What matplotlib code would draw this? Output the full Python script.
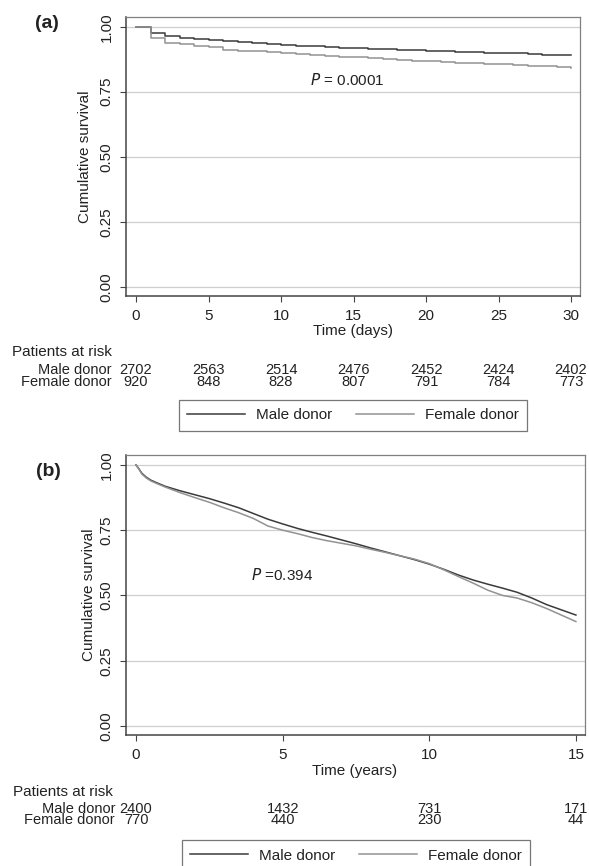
import numpy as np
import matplotlib.pyplot as plt
import matplotlib.transforms as mtransforms

plt.rcParams['font.family'] = ['Liberation Sans', 'DejaVu Sans']
plt.rcParams['text.color'] = '#222222'

W, H = 589, 866

# (a) 30-day survival, value after the events of each day
days = list(range(31))
male_a = [1.000, 0.977, 0.966, 0.956, 0.951, 0.947, 0.944, 0.940, 0.937, 0.934,
          0.931, 0.927, 0.924, 0.922, 0.920, 0.918, 0.916, 0.914, 0.912, 0.910,
          0.908, 0.906, 0.904, 0.902, 0.900, 0.899, 0.897, 0.895, 0.893, 0.892, 0.891]
female_a = [1.000, 0.955, 0.939, 0.932, 0.926, 0.922, 0.912, 0.908, 0.905, 0.902,
            0.898, 0.895, 0.893, 0.887, 0.884, 0.882, 0.879, 0.875, 0.872, 0.870,
            0.868, 0.866, 0.861, 0.859, 0.857, 0.855, 0.853, 0.850, 0.848, 0.845, 0.843]
risk_t_a = [0, 5, 10, 15, 20, 25, 30]
risk_male_a = [2702, 2563, 2514, 2476, 2452, 2424, 2402]
risk_female_a = [920, 848, 828, 807, 791, 784, 773]

# (b) long term survival
years = [0, 0.1, 0.2, 0.35, 0.5, 0.7, 1.0, 1.5, 2.0, 2.5, 3.0, 3.5, 4.0, 4.5, 5.0,
         5.5, 6.0, 6.5, 7.0, 7.5, 8.0, 8.5, 9.0, 9.5, 10.0, 10.5, 11.0, 11.5, 12.0,
         12.5, 13.0, 13.5, 14.0, 14.5, 15.0]
male_b = [1.0, 0.985, 0.968, 0.953, 0.942, 0.932, 0.918, 0.901, 0.886, 0.871, 0.854,
          0.836, 0.814, 0.792, 0.774, 0.757, 0.742, 0.728, 0.713, 0.698, 0.682, 0.667,
          0.652, 0.637, 0.620, 0.600, 0.578, 0.559, 0.543, 0.528, 0.512, 0.490, 0.465,
          0.445, 0.425]
female_b = [1.0, 0.983, 0.965, 0.950, 0.939, 0.929, 0.915, 0.894, 0.875, 0.857, 0.836,
            0.817, 0.795, 0.766, 0.750, 0.737, 0.722, 0.710, 0.700, 0.690, 0.677, 0.665,
            0.652, 0.639, 0.622, 0.598, 0.572, 0.547, 0.520, 0.500, 0.490, 0.472, 0.450,
            0.425, 0.400]
risk_t_b = [0, 5, 10, 15]
risk_male_b = [2400, 1432, 731, 171]
risk_female_b = [770, 440, 230, 44]

male_col = '#3a3a3a'
female_col = '#929292'


def fy(y):
    return 1 - y / H


def style_axes(ax, xticks, ylim, xlim):
    ax.set_xlim(xlim)
    ax.set_ylim(ylim)
    ax.set_xticks(xticks)
    ax.set_yticks([0, 0.25, 0.5, 0.75, 1.0])
    ax.set_yticklabels(['0.00', '0.25', '0.50', '0.75', '1.00'])
    ax.grid(axis='y', color='#cfcfcf', lw=0.9)
    ax.set_axisbelow(True)
    ax.tick_params(axis='both', direction='out', length=4.5, width=0.8, color='#444444',
                   labelsize=11, labelcolor='#222222')
    ax.tick_params(axis='y', labelrotation=90, pad=4.5)
    ax.tick_params(axis='x', pad=5)
    for s in ['left', 'bottom']:
        ax.spines[s].set_color('#444444')
        ax.spines[s].set_linewidth(1.1)
    for s in ['top', 'right']:
        ax.spines[s].set_color('#808080')
        ax.spines[s].set_linewidth(0.9)
    for lab in ax.get_yticklabels():
        lab.set_va('center')


def risk_rows(ax, ts, males, females, y_m, y_f, lab_x, title_x, title_y):
    fs = 10.5
    fig.text(title_x / W, fy(title_y), 'Patients at risk', fontsize=11, ha='left', va='center')
    fig.text(lab_x / W, fy(y_m), 'Male donor', fontsize=fs, ha='right', va='baseline')
    fig.text(lab_x / W, fy(y_f), 'Female donor', fontsize=fs, ha='right', va='baseline')
    tr = mtransforms.blended_transform_factory(ax.transData, fig.transFigure)
    for t, m, f in zip(ts, males, females):
        fig.text(t, fy(y_m), str(m), transform=tr, fontsize=fs, ha='center', va='baseline')
        fig.text(t, fy(y_f), str(f), transform=tr, fontsize=fs, ha='center', va='baseline')


fig = plt.figure(figsize=(W / 100, H / 100), dpi=100)

# ---- panel (a)
ax_a = fig.add_axes([126 / W, fy(296), (580 - 126) / W, (296 - 16.7) / H])
ax_a.step(days, male_a, where='post', color=male_col, lw=1.1)
ax_a.step(days, female_a, where='post', color=female_col, lw=1.1)
style_axes(ax_a, risk_t_a, (-0.0358, 1.0385), (-0.69, 30.62))
ax_a.text(12.0, 0.795, '$P$ = 0.0001', fontsize=11, ha='left', va='center')

fig.text(47 / W, fy(24), '(a)', fontsize=14, fontweight='bold', ha='center', va='center')
fig.text(85 / W, fy(157), 'Cumulative survival', fontsize=11, rotation=90,
         ha='center', va='center')
fig.text(353 / W, fy(331), 'Time (days)', fontsize=11, ha='center', va='center')
risk_rows(ax_a, risk_t_a, risk_male_a, risk_female_a, 374, 385.5, 112, 12, 352)

# ---- panel (b)
ax_b = fig.add_axes([126 / W, fy(735), (585 - 126) / W, (735 - 455) / H])
ax_b.plot(years, male_b, color=male_col, lw=1.1)
ax_b.plot(years, female_b, color=female_col, lw=1.1)
style_axes(ax_b, risk_t_b, (-0.0345, 1.038), (-0.341, 15.31))
ax_b.text(3.91, 0.579, '$P$ =0.394', fontsize=11, ha='left', va='center')

fig.text(48 / W, fy(472), '(b)', fontsize=14, fontweight='bold', ha='center', va='center')
fig.text(89 / W, fy(595), 'Cumulative survival', fontsize=11, rotation=90,
         ha='center', va='center')
fig.text(355 / W, fy(771), 'Time (years)', fontsize=11, ha='center', va='center')
risk_rows(ax_b, risk_t_b, risk_male_b, risk_female_b, 813, 824.5, 115, 13, 792)

# ---- legends
handles = [plt.Line2D([], [], color=male_col, lw=1.1),
           plt.Line2D([], [], color=female_col, lw=1.1)]
names = ['Male donor', 'Female donor']
for cy in (415.5, 855.5):
    cx = 353 if cy < 600 else 356
    lg = fig.legend(handles, names, loc='center', bbox_to_anchor=(cx / W, fy(cy)),
                    ncol=2, fontsize=11, frameon=True, fancybox=False,
                    edgecolor='#555555', handlelength=3.8, handletextpad=0.7,
                    columnspacing=1.6, borderpad=0.55, borderaxespad=0)
    lg.get_frame().set_linewidth(0.9)

fig.savefig('out.png', dpi=100)
